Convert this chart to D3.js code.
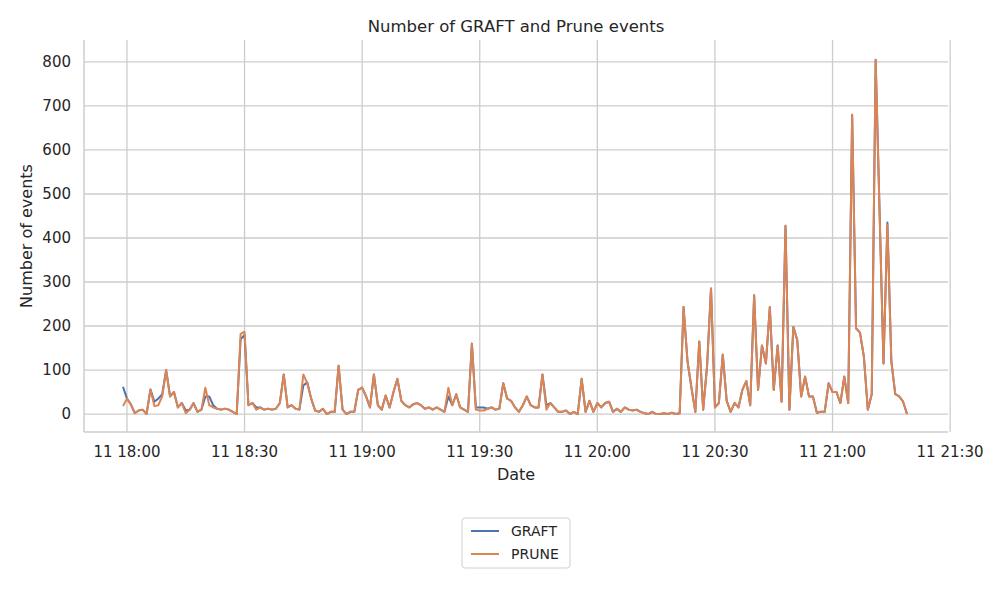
<!DOCTYPE html>
<html><head><meta charset="utf-8">
<script src="https://cdn.jsdelivr.net/npm/d3@7"></script>
<style>body{margin:0;background:#fff}svg{font-family:"DejaVu Sans",sans-serif}</style>
</head><body><svg id="c" width="1000" height="600"></svg>
<script>
const startMinute = -1; // minutes relative to 18:00
const prune = [18,35,22,2,8,10,0,56,18,20,40,100,40,50,15,25,2,10,25,5,10,60,20,15,12,10,12,10,5,0,182,187,20,25,10,15,10,12,10,12,25,90,15,20,12,10,90,70,35,8,5,12,0,5,5,110,10,0,5,5,55,60,40,15,90,20,10,42,15,50,80,30,20,15,22,25,20,12,15,10,15,10,5,60,20,45,15,10,5,160,10,8,8,12,15,10,12,70,35,30,15,5,20,40,20,15,15,90,10,25,15,5,5,8,0,5,0,80,5,30,5,25,15,25,28,5,12,5,15,10,8,10,5,2,0,5,0,0,2,0,3,0,2,243,120,60,5,165,10,110,285,15,25,135,30,5,25,15,55,75,20,270,55,156,115,243,55,156,28,428,10,198,168,40,85,40,40,3,5,5,70,50,50,25,85,25,680,195,185,130,10,45,805,460,115,430,120,45,40,28,0];
const graftDiff = {"-1":62,"7":28,"8":35,"9":45,"15":8,"20":40,"21":40,"22":20,"29":170,"30":180,"33":15,"45":65,"46":72,"82":40,"89":15,"90":15,"91":15,"107":20,"194":435};
const graft = prune.map((v,i)=>{const m=i+startMinute; return graftDiff[m]!==undefined?graftDiff[m]:v;});
const yTicks = [0,100,200,300,400,500,600,700,800];
const seriesNames = ["GRAFT","PRUNE"];
const colors = ["#4c72b0","#dd8452"];

const base = new Date(2021,0,11,18,0);
const t = m => new Date(base.getTime()+m*60000);
const svg = d3.select("#c");
const L=84,R=948,T=40,B=432;
const x = d3.scaleTime().domain([t(-10.7),t(209.2)]).range([L+1,R-1]);
const y = d3.scaleLinear().domain([-40.8,847.6]).range([B,T+1]);
const xt = d3.range(0,211,30).map(t);
const g = svg.append("g");
g.selectAll(".vg").data(xt).join("line").attr("x1",d=>x(d)).attr("x2",d=>x(d)).attr("y1",T).attr("y2",B).attr("stroke","#cccccc").attr("stroke-width",1.3);
g.selectAll(".hg").data(yTicks).join("line").attr("x1",L).attr("x2",R).attr("y1",d=>y(d)).attr("y2",d=>y(d)).attr("stroke","#cccccc").attr("stroke-width",1.3);
svg.append("line").attr("x1",L).attr("x2",L).attr("y1",T).attr("y2",B).attr("stroke","#cccccc").attr("stroke-width",1.5);
svg.append("line").attr("x1",L).attr("x2",R).attr("y1",B).attr("y2",B).attr("stroke","#cccccc").attr("stroke-width",1.5);
const fmt = d3.timeFormat("%d %H:%M");
svg.selectAll(".xl").data(xt).join("text").attr("x",d=>x(d)).attr("y",B+25).attr("text-anchor","middle").attr("font-size",15).attr("fill","#262626").text(d=>fmt(d));
svg.selectAll(".yl").data(yTicks).join("text").attr("x",L-13).attr("y",d=>y(d)+5).attr("text-anchor","end").attr("font-size",15).attr("fill","#262626").text(d=>d);
svg.append("text").attr("x",516).attr("y",480).attr("text-anchor","middle").attr("font-size",16).attr("fill","#262626").text("Date");
svg.append("text").attr("transform","translate(32,236) rotate(-90)").attr("text-anchor","middle").attr("font-size",16).attr("fill","#262626").text("Number of events");
svg.append("text").attr("x",516).attr("y",32).attr("text-anchor","middle").attr("font-size",16.5).attr("fill","#262626").text("Number of GRAFT and Prune events");
const line = d3.line().x((d,i)=>x(t(i+startMinute))).y(d=>y(d));
[graft,prune].forEach((s,k)=>svg.append("path").datum(s).attr("d",line).attr("fill","none").attr("stroke",colors[k]).attr("stroke-width",2).attr("stroke-linejoin","round"));
const lg = svg.append("g");
lg.append("rect").attr("x",462).attr("y",518).attr("width",108).attr("height",50).attr("rx",3).attr("fill","#fff").attr("stroke","#d0d0d0");
seriesNames.forEach((n,k)=>{
  lg.append("line").attr("x1",471).attr("x2",499).attr("y1",531+k*23).attr("y2",531+k*23).attr("stroke",colors[k]).attr("stroke-width",2);
  lg.append("text").attr("x",511).attr("y",536+k*23).attr("font-size",14).attr("fill","#262626").text(n);
});
</script></body></html>
